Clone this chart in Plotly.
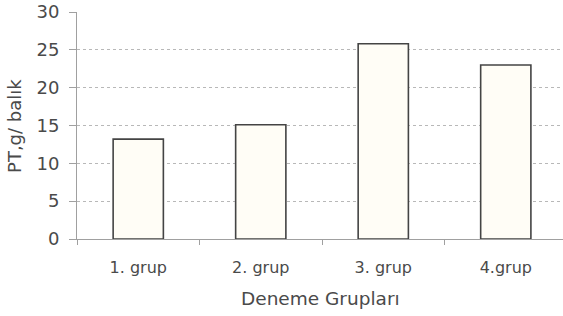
import plotly.graph_objects as go

categories = ["1. grup", "2. grup", "3. grup", "4.grup"]
values = [13.2, 15.1, 25.8, 23.0]
y_ticks = [0, 5, 10, 15, 20, 25, 30]

FONT = "DejaVu Sans, Liberation Sans, Arial, sans-serif"
TXT = "#4a4a4a"

fig = go.Figure()
fig.add_trace(go.Bar(
    x=categories, y=values, width=0.41,
    marker=dict(color="#fffdf6", line=dict(color="#444444", width=1.6)),
))
fig.update_layout(
    width=563, height=316,
    margin=dict(l=77, r=0, t=12, b=77, autoexpand=False),
    paper_bgcolor="white", plot_bgcolor="white",
    showlegend=False,
    font=dict(family=FONT, color=TXT),
    annotations=[
        dict(text="PT,g/ balık", xref="paper", yref="paper",
             x=-62 / 486, y=0.498, xanchor="center", yanchor="middle",
             textangle=-90, showarrow=False, font=dict(size=18, color=TXT)),
        dict(text="Deneme Grupları", xref="paper", yref="paper",
             x=0.502, y=-59 / 227, xanchor="center", yanchor="middle",
             showarrow=False, font=dict(size=18.5, color=TXT)),
    ],
)
fig.update_xaxes(
    range=[-0.5, 3.467], automargin=False,
    showline=True, linecolor="#a0a0a0", linewidth=1,
    ticks="outside", tickson="boundaries", ticklen=5, tickcolor="#a0a0a0",
    tickfont=dict(size=16), showgrid=False, ticklabelstandoff=14,
)
fig.update_yaxes(
    range=[0, 30], tickvals=y_ticks, automargin=False,
    showline=True, linecolor="#a0a0a0", linewidth=1,
    ticks="outside", ticklen=7, tickcolor="#a0a0a0",
    tickfont=dict(size=18), ticklabelstandoff=6,
    showgrid=True, gridcolor="#b8b8b8", griddash="dot", gridwidth=1,
    zeroline=False,
)
fig.write_html("out.html", config={"displayModeBar": False},
               post_script="document.body.style.margin='0';")
